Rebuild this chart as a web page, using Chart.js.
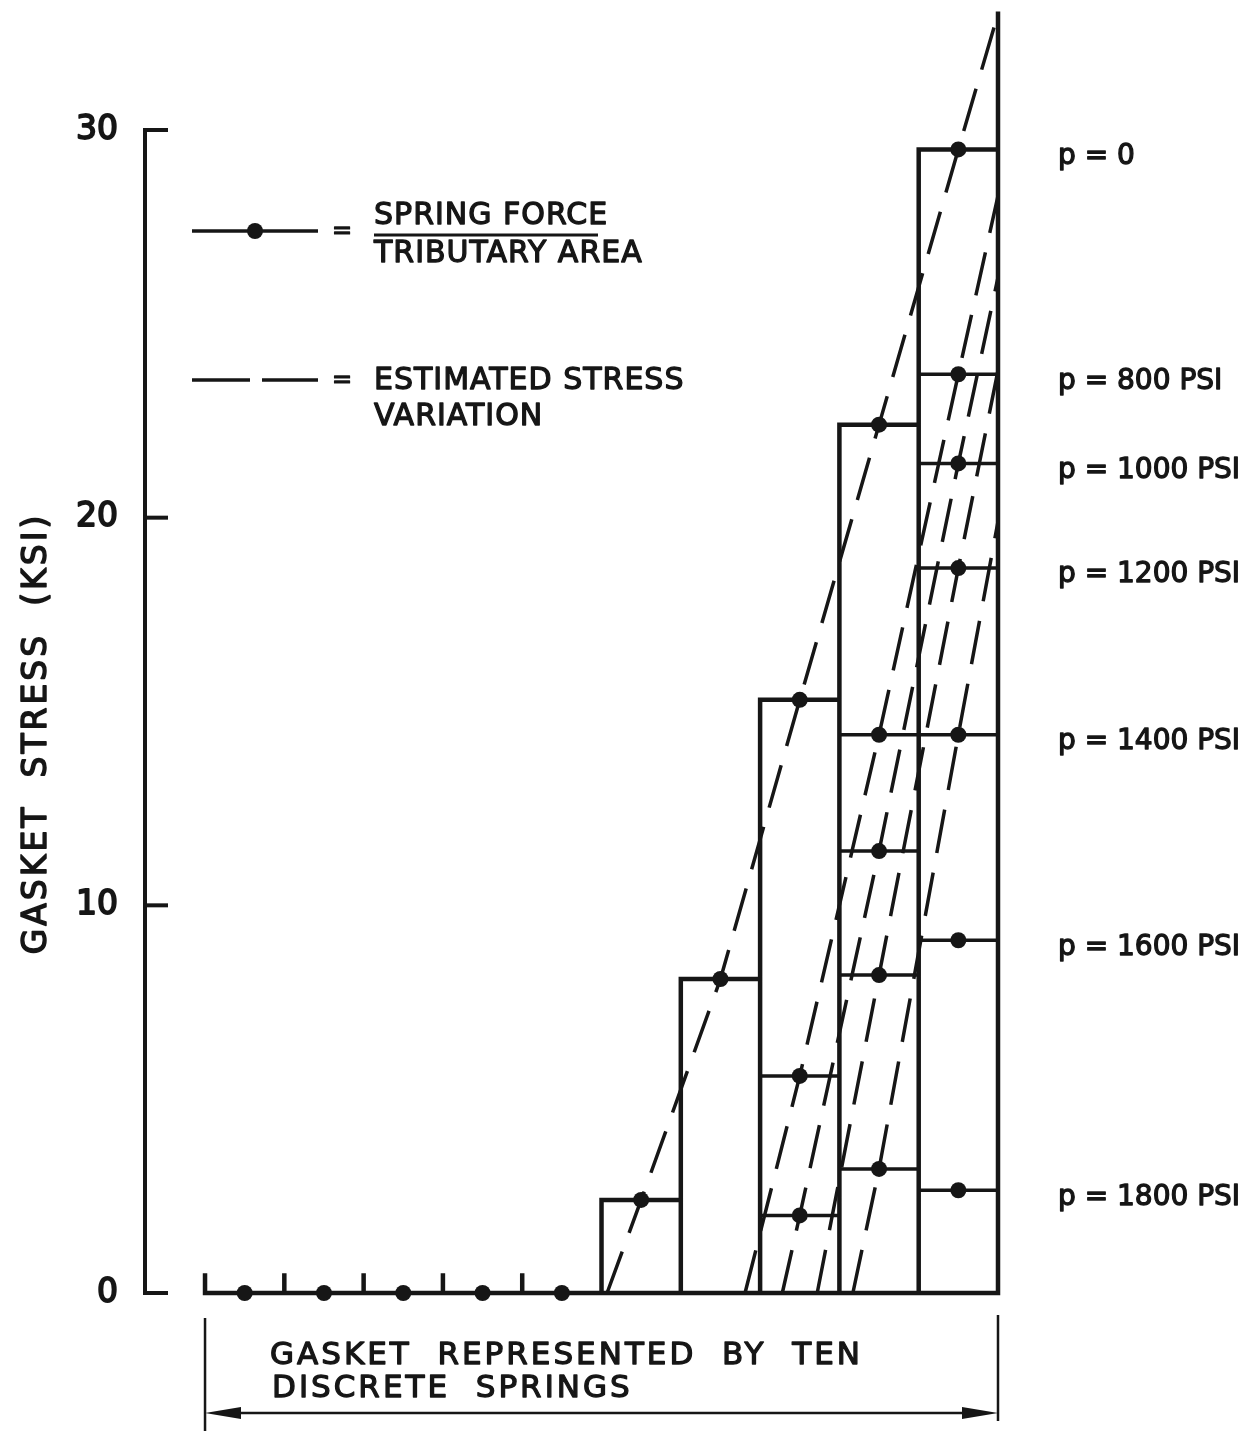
<!DOCTYPE html>
<html>
<head>
<meta charset="utf-8">
<title>Gasket stress</title>
<script src="https://cdn.jsdelivr.net/npm/chart.js@4.4.0/dist/chart.umd.min.js"></script>
<style>
  html, body { margin: 0; padding: 0; background: #fff; }
  canvas { display: block; }
</style>
</head>
<body>
<canvas id="gasketChart" width="1260" height="1431"></canvas>
<script>
// ten discrete springs along the gasket, one unit wide each on the x scale
var springs = [1, 2, 3, 4, 5, 6, 7, 8, 9, 10];
var yTicks = [0, 10, 20, 30];

// spring force / tributary area (ksi) for each spring, per internal pressure
var stressP0    = [0, 0, 0, 0, 0, 2.4, 8.1, 15.3, 22.4, 29.5];
var stressP800  = [null, null, null, null, null, null, null, 5.6, 14.4, 23.7];
var stressP1000 = [null, null, null, null, null, null, null, 2.0, 11.4, 21.4];
var stressP1200 = [null, null, null, null, null, null, null, null, 8.2, 18.7];
var stressP1400 = [null, null, null, null, null, null, null, null, 3.2, 14.4];
var stressP1600 = [null, null, null, null, null, null, null, null, null, 9.1];
var stressP1800 = [null, null, null, null, null, null, null, null, null, 2.65];

var pressureLabels = ['p = 0', 'p = 800 PSI', 'p = 1000 PSI', 'p = 1200 PSI',
                      'p = 1400 PSI', 'p = 1600 PSI', 'p = 1800 PSI'];

// estimated stress variation: where each dashed line leaves zero stress (springs)
// and the stress it reaches at the outer edge of the last spring
var estStartX = [5.07, 6.81, 7.28, 7.72, 8.17];
var estEndY   = [33.0, 28.3, 26.2, 23.8, 19.9];

var allSeries = [stressP0, stressP800, stressP1000, stressP1200, stressP1400, stressP1600, stressP1800];
var ink = '#161616';
var FONT = '"DejaVu Sans", "Liberation Sans", sans-serif';
var nSprings = springs.length;
var last = nSprings - 1;

function gap(x) { return { x: x, y: null }; }

// spring boxes, drawn from the p = 0 stresses
var outline = [{ x: 0, y: 0 }, { x: nSprings, y: 0 }, gap(0)];
stressP0.forEach(function (v, i) {
    if (v > 0) {
        outline.push({ x: i, y: 0 }, { x: i, y: v }, { x: i + 1, y: v }, { x: i + 1, y: 0 }, gap(i));
    } else {
        outline.push({ x: i, y: 0 }, { x: i, y: 0.45 }, gap(i));
    }
});
outline.push({ x: nSprings, y: stressP0[last] }, { x: nSprings, y: estEndY[0] });

// stress level across each spring for the pressurised cases
var levels = [];
allSeries.slice(1).forEach(function (series) {
    series.forEach(function (v, i) {
        if (v !== null) levels.push({ x: i, y: v }, { x: i + 1, y: v }, gap(i));
    });
});

// one dot at the middle of each spring
var dots = [];
allSeries.forEach(function (series) {
    series.forEach(function (v, i) {
        if (v !== null) dots.push({ x: i + 0.5, y: v });
    });
});

var estimates = estStartX.map(function (x0, k) {
    var pts = [{ x: x0, y: 0 }];
    allSeries[k].forEach(function (v, i) {
        if (v !== null && i + 0.5 > x0) pts.push({ x: i + 0.5, y: v });
    });
    pts.push({ x: nSprings, y: estEndY[k] });
    return pts;
});

var datasets = [{
    label: 'spring force / tributary area',
    data: dots,
    showLine: false,
    pointRadius: 8,
    pointBackgroundColor: ink,
    pointBorderWidth: 0,
    clip: false
}, {
    label: 'boxes',
    data: outline,
    showLine: true,
    borderColor: ink,
    borderWidth: 4.5,
    borderCapStyle: 'square',
    pointRadius: 0,
    spanGaps: false,
    clip: false
}, {
    label: 'levels',
    data: levels,
    showLine: true,
    borderColor: ink,
    borderWidth: 3.5,
    pointRadius: 0,
    spanGaps: false,
    clip: false
}];

estimates.forEach(function (pts, k) {
    datasets.push({
        label: 'estimated stress variation ' + pressureLabels[k],
        data: pts,
        showLine: true,
        borderColor: ink,
        borderWidth: 3.5,
        borderDash: [44, 20],
        pointRadius: 0,
        tension: 0,
        clip: false
    });
});

// lettering is filled and lightly stroked so it reads like pen lettering
function letter(ctx, text, x, y, weight) {
    ctx.fillText(text, x, y);
    ctx.lineWidth = weight || 1.3;
    ctx.strokeText(text, x, y);
}

// lettering, legend, tick marks and the gasket dimension arrow
var sheetNotes = {
    id: 'sheetNotes',
    afterDraw: function (chart) {
        var ctx = chart.ctx, area = chart.chartArea;
        var xs = chart.scales.x, ys = chart.scales.y;
        ctx.save();
        ctx.strokeStyle = ink;
        ctx.fillStyle = ink;
        ctx.lineCap = 'butt';
        ctx.lineJoin = 'round';

        // tick marks pointing into the plot, with their values
        yTicks.forEach(function (t) {
            var py = ys.getPixelForValue(t);
            ctx.lineWidth = 4;
            ctx.beginPath();
            ctx.moveTo(area.left - 2, py);
            ctx.lineTo(area.left + 23, py);
            ctx.stroke();
            ctx.font = '33px ' + FONT;
            ctx.textAlign = 'right';
            ctx.textBaseline = 'middle';
            letter(ctx, String(t), area.left - 27, py, 1.8);
        });

        // axis title
        ctx.save();
        ctx.translate(area.left - 108, (area.top + area.bottom) / 2 + 22);
        ctx.rotate(-Math.PI / 2);
        ctx.font = '33px ' + FONT;
        ctx.letterSpacing = '3px';
        ctx.textAlign = 'center';
        ctx.textBaseline = 'middle';
        letter(ctx, 'GASKET  STRESS  (KSI)', 0, 0, 1.5);
        ctx.restore();

        // pressure labels beside the last spring
        ctx.font = '28px ' + FONT;
        ctx.textAlign = 'left';
        ctx.textBaseline = 'middle';
        allSeries.forEach(function (series, k) {
            letter(ctx, pressureLabels[k], area.right + 60, ys.getPixelForValue(series[last]) + 7, 1.3);
        });

        // legend
        var lx = area.left + 47, ly1 = area.top + 101, ly2 = area.top + 250;
        ctx.lineWidth = 3.5;
        ctx.beginPath();
        ctx.moveTo(lx, ly1);
        ctx.lineTo(lx + 126, ly1);
        ctx.stroke();
        ctx.beginPath();
        ctx.arc(lx + 63, ly1, 8, 0, Math.PI * 2);
        ctx.fill();
        ctx.beginPath();
        ctx.moveTo(lx, ly2);
        ctx.lineTo(lx + 58, ly2);
        ctx.moveTo(lx + 70, ly2);
        ctx.lineTo(lx + 126, ly2);
        ctx.stroke();

        ctx.font = '24px ' + FONT;
        ctx.textAlign = 'center';
        letter(ctx, '=', lx + 150, ly1 + 1, 1.2);
        letter(ctx, '=', lx + 150, ly2 + 1, 1.2);

        ctx.font = '30px ' + FONT;
        ctx.textAlign = 'left';
        ctx.letterSpacing = '1px';
        var tx = lx + 182;
        letter(ctx, 'SPRING FORCE', tx, ly1 - 15);
        letter(ctx, 'TRIBUTARY AREA', tx, ly1 + 23);
        letter(ctx, 'ESTIMATED STRESS', tx, ly2 + 1);
        letter(ctx, 'VARIATION', tx, ly2 + 37);
        ctx.lineWidth = 3;
        ctx.beginPath();
        ctx.moveTo(tx, ly1 + 4);
        ctx.lineTo(tx + 224, ly1 + 4);
        ctx.stroke();

        // gasket width dimension below the springs
        var bx0 = xs.getPixelForValue(0), bx1 = xs.getPixelForValue(nSprings);
        var ay = area.bottom + 120;
        ctx.lineWidth = 2.5;
        ctx.beginPath();
        ctx.moveTo(bx0, area.bottom + 25);
        ctx.lineTo(bx0, chart.height);
        ctx.moveTo(bx1, area.bottom + 22);
        ctx.lineTo(bx1, area.bottom + 128);
        ctx.moveTo(bx0 + 20, ay);
        ctx.lineTo(bx1 - 20, ay);
        ctx.stroke();
        [[bx0, 1], [bx1, -1]].forEach(function (a) {
            ctx.beginPath();
            ctx.moveTo(a[0], ay);
            ctx.lineTo(a[0] + a[1] * 36, ay - 6);
            ctx.lineTo(a[0] + a[1] * 36, ay + 6);
            ctx.closePath();
            ctx.fill();
        });

        ctx.font = '31px ' + FONT;
        ctx.letterSpacing = '3px';
        ctx.textAlign = 'left';
        letter(ctx, 'GASKET  REPRESENTED  BY  TEN', bx0 + 65, area.bottom + 63);
        letter(ctx, 'DISCRETE  SPRINGS', bx0 + 67, area.bottom + 96);
        ctx.restore();
    }
};

Chart.defaults.font.family = FONT;
Chart.defaults.color = ink;

new Chart(document.getElementById('gasketChart'), {
    type: 'scatter',
    data: { datasets: datasets },
    options: {
        responsive: false,
        animation: false,
        layout: { padding: { top: 130, right: 262, bottom: 138, left: 0 } },
        plugins: {
            legend: { display: false },
            tooltip: { enabled: false }
        },
        scales: {
            x: {
                type: 'linear',
                min: -0.757,
                max: nSprings,
                display: false
            },
            y: {
                type: 'linear',
                min: 0,
                max: 30,
                afterBuildTicks: function (scale) {
                    scale.ticks = yTicks.map(function (v) { return { value: v }; });
                },
                afterFit: function (scale) { scale.width = 145; },
                ticks: { display: false },
                grid: { display: true, drawOnChartArea: false, drawTicks: false },
                border: { display: true, color: ink, width: 4 }
            }
        }
    },
    plugins: [sheetNotes]
});
</script>
</body>
</html>
